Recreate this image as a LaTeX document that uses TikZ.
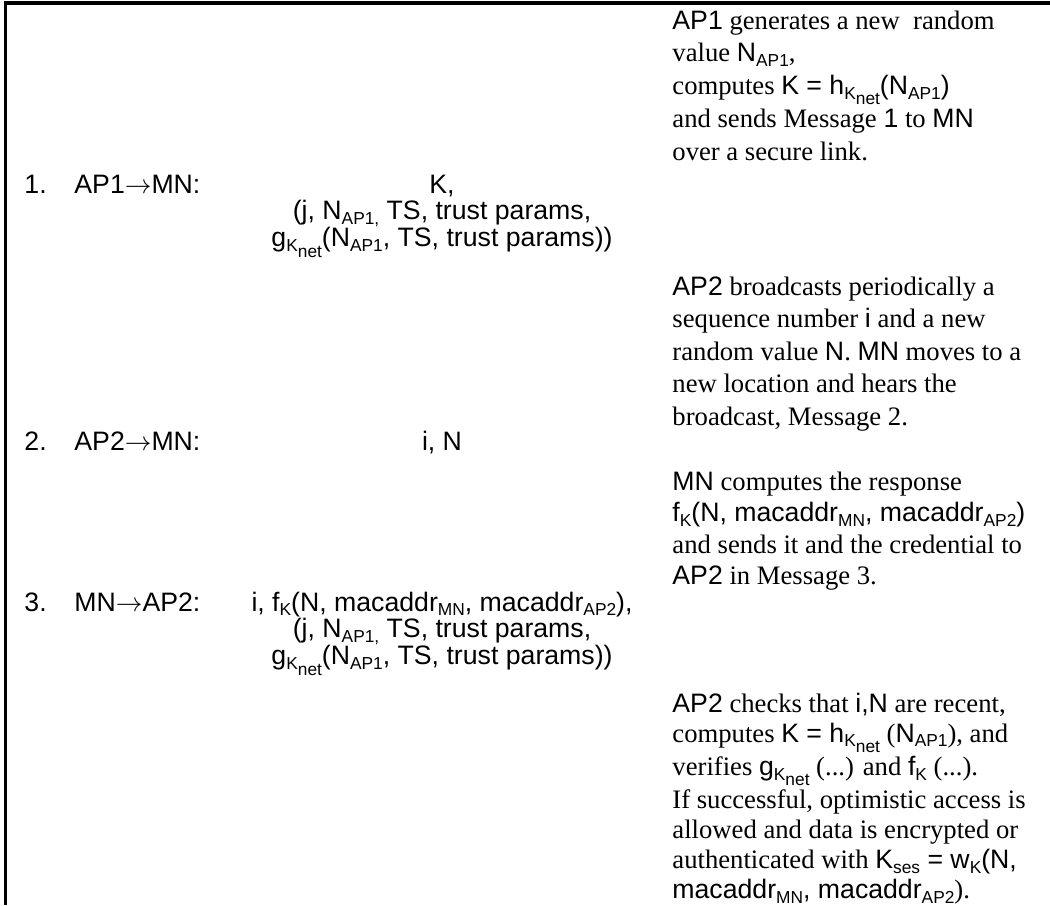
\documentclass[tikz,border=0pt]{standalone}
\usepackage{fontspec}
\setmainfont{Liberation Serif}
\newfontfamily\arialfont{Liberation Sans}

% Arial words, Word-like subscripts, text blocks
\newcommand\sa[1]{{\arialfont #1}}
\newcommand\lo[1]{\raisebox{-0.35ex}{\scalebox{0.65}{#1}}}
\newcommand\knet{\lo{K\raisebox{-0.6ex}{net}}}
\newcommand\goesto{\ensuremath{\rightarrow}}
\newcommand\textblock[2]{\parbox[t]{190pt}{\raggedright\fontsize{12}{#1}\selectfont\lineskiplimit=-20pt\relax #2}}
\newcommand\msgblock[1]{\parbox[t]{220pt}{\centering\arialfont\fontsize{12}{12.1}\selectfont\lineskiplimit=-20pt\relax #1}}

\begin{document}
\begin{tikzpicture}[x=0.45pt,y=-0.45pt]
  % Local definitions
  \def\midx{442}
  \def\textx{672}

  % Styles
  \tikzstyle{frame line}=[line width=1.5pt]
  \tikzstyle{step number}=[anchor=base west,inner sep=0pt,font=\arialfont\fontsize{12}{14}\selectfont]
  \tikzstyle{message}=[anchor=base,inner sep=0pt]
  \tikzstyle{remark}=[anchor=base west,inner sep=0pt]

  % The graphic
  \useasboundingbox (0,0) rectangle (1050,905);
  \draw[frame line] (5.5,905) -- (5.5,3) -- (1050,3);

  % Remarks
  \node[remark] (r1) at (\textx,29) {\textblock{14.75pt}{%
    \sa{AP1} generates a new\ \ random\\
    value \sa{N\lo{AP1}},\\
    computes \sa{K = h\knet(N\lo{AP1})}\\
    and sends Message \sa{1} to \sa{MN}\\
    over a secure link.}};
  \node[remark] (r2) at (\textx,295) {\textblock{14.65pt}{%
    \sa{AP2} broadcasts periodically a\\
    sequence number \sa{i} and a new\\
    random value \sa{N}. \sa{MN} moves to a\\
    new location and hears the\\
    broadcast, Message 2.}};
  \node[remark] (r3) at (\textx,490) {\textblock{14.2pt}{%
    \sa{MN} computes the response\\
    \sa{f\lo{K}(N, macaddr\lo{MN}, macaddr\lo{AP2})}\\
    and sends it and the credential to\\
    \sa{AP2} in Message 3.}};
  \node[remark] (r4) at (\textx,712) {\textblock{13.5pt}{%
    \sa{AP2} checks that \sa{i,N} are recent,\\
    computes \sa{K = h\knet} (\sa{N\lo{AP1}}), and\\[1.5pt]
    verifies \sa{g\knet} (...) and \sa{f\lo{K}} (...).\\[1.5pt]
    If successful, optimistic access is\\
    allowed and data is encrypted or\\
    authenticated with \sa{K\lo{ses} = w\lo{K}(N,}\\
    \sa{macaddr\lo{MN}, macaddr\lo{AP2}}).}};

  % Messages
  \node[step number] (n1) at (24,193) {1.};
  \node[step number] (s1) at (74,193) {AP1\goesto MN:};
  \node[message] (m1) at (\midx,193) {\msgblock{K,\\
    (j, N\lo{AP1,} TS, trust params,\\
    g\knet(N\lo{AP1}, TS, trust params))}};

  \node[step number] (n2) at (24,450) {2.};
  \node[step number] (s2) at (74,450) {AP2\goesto MN:};
  \node[message] (m2) at (\midx,450) {\msgblock{i, N}};

  \node[step number] (n3) at (24,611) {3.};
  \node[step number] (s3) at (74,611) {MN\goesto AP2:};
  \node[message] (m3) at (\midx,611) {\msgblock{i, f\lo{K}(N, macaddr\lo{MN}, macaddr\lo{AP2}),\\
    (j, N\lo{AP1,} TS, trust params,\\
    g\knet(N\lo{AP1}, TS, trust params))}};
\end{tikzpicture}
\end{document}
